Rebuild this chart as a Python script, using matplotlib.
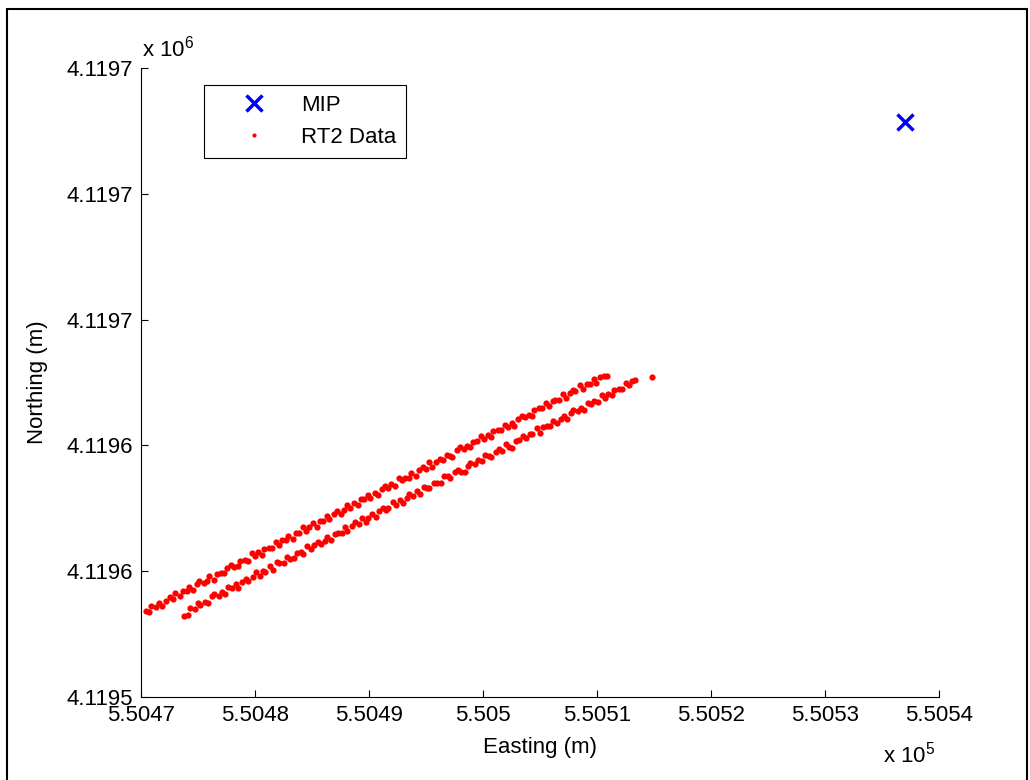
import numpy as np
import matplotlib
matplotlib.use('Agg')
import matplotlib.pyplot as plt
from matplotlib.patches import Rectangle

plt.rcParams['font.family'] = ['Liberation Sans', 'DejaVu Sans']
plt.rcParams['mathtext.fontset'] = 'custom'
plt.rcParams['mathtext.rm'] = 'Liberation Sans'
plt.rcParams['mathtext.it'] = 'Liberation Sans:italic'

# local origin of the survey grid (m)
east0 = 550470.0
north0 = 4119540.0

# MIP position (m)
mip_east = [550537.0]
mip_north = [4119722.8]

# RT2 track, outbound leg (offsets from origin, m)
up_e = [0.4, 0.7, 0.9, 1.3, 1.6, 1.8, 2.2, 2.5, 2.8, 3.0,
        3.4, 3.7, 4.0, 4.2, 4.6, 4.9, 5.1, 5.5, 5.8, 6.0,
        6.4, 6.7, 7.0, 7.3, 7.5, 7.9, 8.2, 8.5, 8.7, 9.1,
        9.4, 9.7, 10.0, 10.3, 10.6, 10.8, 11.2, 11.5, 11.8, 12.1,
        12.4, 12.7, 12.9, 13.3, 13.6, 13.9, 14.2, 14.5, 14.7, 15.1,
        15.4, 15.7, 16.0, 16.3, 16.5, 16.9, 17.2, 17.5, 17.8, 18.1,
        18.3, 18.7, 19.0, 19.3, 19.6, 19.9, 20.1, 20.5, 20.8, 21.1,
        21.4, 21.7, 21.9, 22.3, 22.6, 22.9, 23.2, 23.5, 23.7, 24.1,
        24.4, 24.7, 25.0, 25.3, 25.5, 25.9, 26.2, 26.5, 26.8, 27.1,
        27.3, 27.7, 28.0, 28.3, 28.6, 28.9, 29.1, 29.5, 29.8, 30.1,
        30.4, 30.7, 30.9, 31.3, 31.6, 31.9, 32.2, 32.5, 32.7, 33.1,
        33.4, 33.7, 34.0, 34.3, 34.5, 34.9, 35.2, 35.5, 35.8, 36.1,
        36.3, 36.7, 37.0, 37.3, 37.6, 37.9, 38.1, 38.5, 38.8, 39.1,
        39.4, 39.7, 39.9, 40.3, 40.6, 40.9]
up_n = [27.5, 27.1, 29.0, 28.6, 29.9, 28.8, 30.6, 31.8, 31.3, 33.1,
        32.0, 33.6, 33.8, 34.9, 34.1, 36.0, 36.9, 36.2, 37.0, 38.4,
        37.2, 39.2, 39.5, 39.3, 40.9, 42.1, 41.4, 41.5, 43.3, 43.5,
        43.4, 45.7, 44.9, 46.1, 45.2, 47.2, 47.5, 47.4, 49.3, 48.2,
        49.8, 50.0, 51.3, 50.3, 52.3, 52.0, 53.9, 52.9, 53.9, 55.2,
        54.1, 56.1, 56.1, 57.6, 56.6, 58.1, 59.1, 58.2, 59.6, 61.2,
        60.1, 61.6, 60.9, 63.0, 62.8, 64.3, 63.3, 65.0, 64.2, 66.0,
        67.1, 66.5, 67.7, 67.2, 69.5, 68.9, 69.7, 69.7, 71.3, 70.4,
        72.2, 73.0, 72.6, 74.7, 73.1, 74.7, 75.8, 75.2, 77.1, 76.6,
        76.3, 78.4, 79.4, 78.8, 79.9, 79.5, 81.2, 81.3, 82.9, 82.0,
        83.4, 82.7, 84.7, 84.8, 84.9, 86.6, 85.8, 87.1, 86.3, 88.5,
        89.5, 88.9, 89.7, 89.5, 91.3, 91.8, 91.8, 93.5, 92.4, 94.0,
        94.5, 94.4, 96.2, 95.0, 96.6, 97.6, 97.2, 99.1, 98.0, 99.5,
        99.5, 101.0, 99.9, 101.9, 102.1, 102.1]

# RT2 track, return leg
lo_e = [3.8, 4.1, 4.3, 4.7, 5.0, 5.2, 5.6, 5.9, 6.2, 6.4,
        6.8, 7.1, 7.4, 7.6, 8.0, 8.3, 8.5, 8.9, 9.2, 9.4,
        9.8, 10.1, 10.4, 10.7, 10.9, 11.3, 11.6, 11.9, 12.1, 12.5,
        12.8, 13.1, 13.4, 13.7, 14.0, 14.2, 14.6, 14.9, 15.2, 15.5,
        15.8, 16.1, 16.3, 16.7, 17.0, 17.3, 17.6, 17.9, 18.1, 18.5,
        18.8, 19.1, 19.4, 19.7, 19.9, 20.3, 20.6, 20.9, 21.2, 21.5,
        21.7, 22.1, 22.4, 22.7, 23.0, 23.3, 23.5, 23.9, 24.2, 24.5,
        24.8, 25.1, 25.3, 25.7, 26.0, 26.3, 26.6, 26.9, 27.1, 27.5,
        27.8, 28.1, 28.4, 28.7, 28.9, 29.3, 29.6, 29.9, 30.2, 30.5,
        30.7, 31.1, 31.4, 31.7, 32.0, 32.3, 32.5, 32.9, 33.2, 33.5,
        33.8, 34.1, 34.3, 34.7, 35.0, 35.3, 35.6, 35.9, 36.1, 36.5,
        36.8, 37.1, 37.4, 37.7, 37.9, 38.3, 38.6, 38.9, 39.2, 39.5,
        39.7, 40.1, 40.4, 40.7, 41.0, 41.3, 41.5, 41.9, 42.2, 42.5,
        42.8, 43.1, 43.3, 44.8]
lo_n = [25.9, 26.0, 28.2, 28.0, 29.9, 29.2, 30.3, 29.9, 32.0, 32.7,
        32.1, 33.3, 32.9, 34.9, 34.7, 35.8, 34.6, 36.7, 37.6, 36.8,
        38.0, 39.7, 38.4, 40.1, 39.9, 41.5, 40.4, 42.8, 42.6, 42.6,
        44.6, 43.9, 44.1, 45.9, 46.0, 45.4, 48.0, 47.1, 48.4, 49.4,
        48.6, 49.7, 51.0, 49.8, 51.9, 52.2, 52.1, 54.1, 52.7, 54.4,
        55.5, 55.1, 56.9, 55.8, 56.8, 58.1, 57.2, 59.0, 60.0, 59.4,
        60.0, 62.1, 60.9, 62.5, 61.7, 63.4, 64.4, 64.0, 65.4, 64.7,
        66.8, 66.6, 66.5, 68.2, 68.1, 67.9, 70.3, 70.2, 69.6, 71.4,
        72.3, 71.7, 71.6, 73.5, 74.4, 74.2, 75.5, 74.9, 77.0, 76.6,
        76.2, 78.0, 78.8, 78.3, 80.3, 79.6, 79.3, 81.5, 81.7, 82.9,
        82.2, 83.5, 83.5, 85.5, 84.1, 86.0, 86.3, 86.3, 87.8, 87.0,
        88.3, 89.5, 88.4, 90.4, 91.3, 90.8, 91.9, 91.4, 93.5, 93.3,
        94.2, 93.9, 96.1, 95.2, 96.4, 95.9, 97.6, 97.9, 97.8, 99.7,
        99.3, 100.4, 100.7, 101.7]

xticks = [550470, 550480, 550490, 550500, 550510, 550520, 550530, 550540]
xlabels = ['5.5047', '5.5048', '5.5049', '5.505', '5.5051', '5.5052', '5.5053', '5.5054']
yticks = [4119540, 4119580, 4119620, 4119660, 4119700, 4119740]
ylabels = ['4.1195', '4.1196', '4.1196', '4.1197', '4.1197', '4.1197']

rt2_e = east0 + np.array(up_e + lo_e)
rt2_n = north0 + np.array(up_n + lo_n)

fs = 16

fig = plt.figure(figsize=(10.3, 7.8), dpi=100)
ax = fig.add_axes([141 / 1030, 83 / 780, 798 / 1030, 629 / 780])

ax.plot(mip_east, mip_north, linestyle='none', marker='x', color='b',
        markersize=12, markeredgewidth=2.5, label='MIP')
ax.plot(rt2_e, rt2_n, linestyle='none', marker='o', color='r',
        markersize=4.5, markeredgewidth=0, label='RT2 Data')

ax.set_xlim(550470, 550540)
ax.set_ylim(4119540, 4119740)
ax.set_xticks(xticks)
ax.set_xticklabels(xlabels)
ax.set_yticks(yticks)
ax.set_yticklabels(ylabels)

ax.spines['top'].set_visible(False)
ax.spines['right'].set_visible(False)
ax.spines['left'].set_linewidth(0.8)
ax.spines['bottom'].set_linewidth(0.8)
ax.tick_params(axis='both', direction='in', length=5, width=0.8,
               labelsize=fs, pad=6)

ax.set_xlabel('Easting (m)', fontsize=fs, labelpad=8)
ax.set_ylabel('Northing (m)', fontsize=fs, labelpad=13)

fig.text(142 / 1030, 1 - 57 / 780, r'x 10$^{6}$', fontsize=fs,
         ha='left', va='baseline')
fig.text(883 / 1030, 1 - 763 / 780, r'x 10$^{5}$', fontsize=fs,
         ha='left', va='baseline')

leg = ax.legend(loc='upper left', bbox_to_anchor=(63 / 798, 1 - 17 / 629),
                borderaxespad=0, fontsize=fs, fancybox=False, framealpha=1,
                edgecolor='k', numpoints=1, handlelength=3.6,
                handletextpad=0.3, borderpad=0.45, labelspacing=0.5)
leg.get_frame().set_linewidth(0.8)
leg.legend_handles[1].set_markersize(3)

# outer frame of the figure window
fig.add_artist(Rectangle((7 / 1030, -0.1), 1020 / 1030, 1.1 - 9 / 780,
                         transform=fig.transFigure, fill=False,
                         edgecolor='k', linewidth=1.5))

fig.savefig('out.png', dpi=100)
